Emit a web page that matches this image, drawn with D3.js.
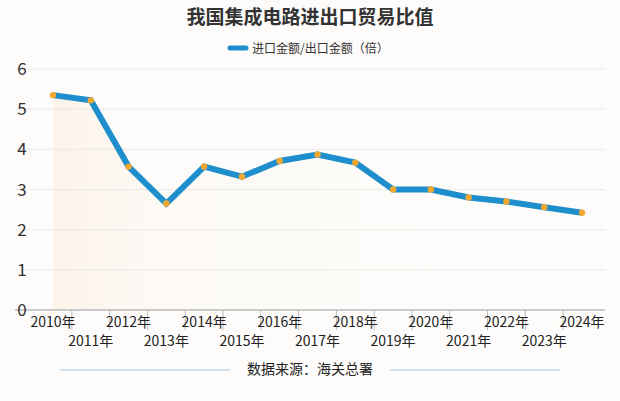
<!DOCTYPE html><html><head><meta charset="utf-8">
<script src="https://cdn.jsdelivr.net/npm/d3@7/dist/d3.min.js"></script>
<style>body{margin:0;background:#fff}svg{display:block}</style></head><body><svg width="620" height="401"></svg>
<script>
const years=["2010年","2011年","2012年","2013年","2014年","2015年","2016年","2017年","2018年","2019年","2020年","2021年","2022年","2023年","2024年"];
const ratio=[5.35,5.22,3.57,2.65,3.57,3.32,3.71,3.87,3.67,3.0,3.0,2.8,2.7,2.56,2.42];
const yTicks=[0,1,2,3,4,5,6];
const svg=d3.select("svg");
const F="'Noto Sans CJK SC','Noto Sans',sans-serif";
svg.append("rect").attr("width",620).attr("height",401).attr("fill","#fdfcfa");
const x=d3.scalePoint().domain(years).range([53,582]);
const y=d3.scaleLinear().domain([0,6]).range([310,69]);
const step=x.step();
const defs=svg.append("defs");
const g=defs.append("linearGradient").attr("id","ag").attr("x1",0).attr("x2",1).attr("y1",0).attr("y2",0);
g.append("stop").attr("offset","0").attr("stop-color","#fbe6d2").attr("stop-opacity",0.4);
g.append("stop").attr("offset","0.3").attr("stop-color","#fdf3ea").attr("stop-opacity",0.15);
g.append("stop").attr("offset","1").attr("stop-color","#fff").attr("stop-opacity",0);
svg.append("path").datum(ratio).attr("fill","url(#ag)")
 .attr("d",d3.area().x((d,i)=>x(years[i])).y0(310).y1(d=>y(d)));
svg.append("g").selectAll("line").data(yTicks.slice(1)).join("line")
 .attr("x1",15).attr("x2",605).attr("y1",d=>y(d)).attr("y2",d=>y(d))
 .attr("stroke","#ebe9e5").attr("stroke-width",1);
svg.append("line").attr("x1",15).attr("x2",605).attr("y1",310).attr("y2",310).attr("stroke","#999");
svg.append("g").selectAll("text").data(yTicks).join("text")
 .attr("x",22).attr("y",d=>y(d)+6).attr("text-anchor","middle")
 .attr("font-family",F).attr("font-size",17).attr("fill","#333").text(d=>d);
svg.append("g").selectAll("line").data(years.slice(0,-1)).join("line")
 .attr("x1",d=>x(d)+step/2).attr("x2",d=>x(d)+step/2).attr("y1",310).attr("y2",330)
 .attr("stroke","#bbb");
svg.append("g").selectAll("text").data(years).join("text")
 .attr("x",d=>x(d)).attr("y",(d,i)=>i%2?346:327).attr("text-anchor","middle")
 .attr("font-family",F).attr("font-size",14).attr("fill","#222").text(d=>d);
svg.append("path").datum(ratio).attr("fill","none").attr("stroke","#1e8fcc").attr("stroke-width",6)
 .attr("d",d3.line().x((d,i)=>x(years[i])).y(d=>y(d)));
svg.append("g").selectAll("circle").data(ratio).join("circle")
 .attr("cx",(d,i)=>x(years[i])).attr("cy",d=>y(d)).attr("r",3.2).attr("fill","#f0a830");
svg.append("text").attr("x",310).attr("y",24).attr("text-anchor","middle").attr("font-family",F)
 .attr("font-size",19).attr("font-weight","bold").attr("fill","#333").text("我国集成电路进出口贸易比值");
svg.append("line").attr("x1",230).attr("x2",246).attr("y1",48).attr("y2",48).attr("stroke","#1e8fcc").attr("stroke-width",5).attr("stroke-linecap","round");
svg.append("text").attr("x",252).attr("y",53).attr("font-family",F).attr("font-size",12).attr("fill","#333").text("进口金额/出口金额（倍）");
svg.append("text").attr("x",310).attr("y",374).attr("text-anchor","middle").attr("font-family",F)
 .attr("font-size",14).attr("fill","#222").text("数据来源：海关总署");
svg.append("line").attr("x1",60).attr("x2",230).attr("y1",370).attr("y2",370).attr("stroke","#cfe3f2").attr("stroke-width",2);
svg.append("line").attr("x1",390).attr("x2",560).attr("y1",370).attr("y2",370).attr("stroke","#cfe3f2").attr("stroke-width",2);
</script></body></html>
